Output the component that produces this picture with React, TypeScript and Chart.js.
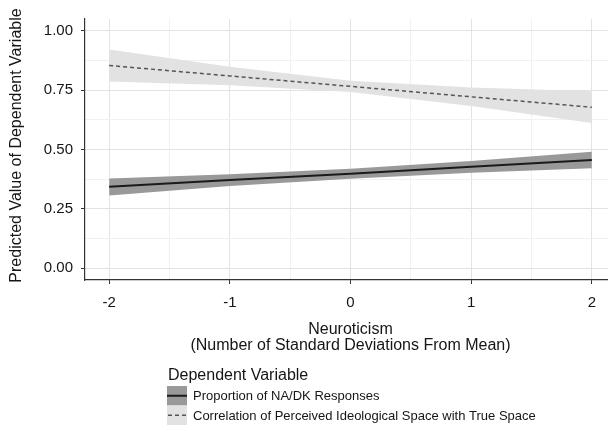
import React, { useEffect, useRef } from "react";
import { Chart, registerables } from "chart.js";

Chart.register(...registerables);

// ---- data ----
const xValues = [-2, -1, 0, 1, 2];
const propFit = [0.343, 0.371, 0.398, 0.427, 0.456];
const propLow = [0.306, 0.346, 0.377, 0.402, 0.421];
const propHigh = [0.378, 0.396, 0.419, 0.452, 0.491];
const corrFit = [0.854, 0.81, 0.766, 0.722, 0.678];
const corrLow = [0.787, 0.771, 0.742, 0.683, 0.612];
const corrHigh = [0.921, 0.849, 0.79, 0.761, 0.746];

const xTicks = [-2, -1.5, -1, -0.5, 0, 0.5, 1, 1.5, 2];
const yTicks = [0, 0.125, 0.25, 0.375, 0.5, 0.625, 0.75, 0.875, 1];

const seriesNames = [
  "Proportion of NA/DK Responses",
  "Correlation of Perceived Ideological Space with True Space",
];
const legendTitle = "Dependent Variable";
const xTitle = ["Neuroticism", "(Number of Standard Deviations From Mean)"];
const yTitle = "Predicted Value of Dependent Variable";

// ---- styles ----
const FONT = '"Liberation Sans", Arial, Helvetica, sans-serif';
const TEXT = "#151515";
const PROP_LINE = "#1a1a1a";
const PROP_BAND = "#999999";
const CORR_LINE = "#555555";
const CORR_BAND = "#e2e2e2";
const GRID_MAJOR = "#e3e3e3";
const GRID_MINOR = "#f1f1f1";
const AXIS = "#333333";

const pts = (ys: number[]) => xValues.map((x, i) => ({ x, y: ys[i] }));

const isMajorY = (v: number) => Math.abs(v * 4 - Math.round(v * 4)) < 1e-9;
const isMajorX = (v: number) => Math.abs(v - Math.round(v)) < 1e-9;

const legendPlugin = {
  id: "customLegend",
  afterDraw(chart: any) {
    const ctx = chart.ctx as CanvasRenderingContext2D;
    ctx.save();

    // y-axis title
    ctx.save();
    ctx.translate(16.5, 145.5);
    ctx.rotate(-Math.PI / 2);
    ctx.textAlign = "center";
    ctx.textBaseline = "middle";
    ctx.fillStyle = TEXT;
    ctx.font = `16px ${FONT}`;
    ctx.fillText(yTitle, 0, 0);
    ctx.restore();

    ctx.textAlign = "left";
    ctx.textBaseline = "middle";
    ctx.fillStyle = TEXT;
    ctx.font = `16px ${FONT}`;
    ctx.fillText(legendTitle, 168, 376);

    const kx = 167;
    const kw = 20;
    const k1 = 386;
    const k2 = 405.5;
    const kh = 19.5;
    ctx.fillStyle = PROP_BAND;
    ctx.fillRect(kx, k1, kw, kh);
    ctx.fillStyle = CORR_BAND;
    ctx.fillRect(kx, k2, kw, kh);

    ctx.strokeStyle = PROP_LINE;
    ctx.lineWidth = 2;
    ctx.setLineDash([]);
    ctx.beginPath();
    ctx.moveTo(kx, k1 + kh / 2);
    ctx.lineTo(kx + kw, k1 + kh / 2);
    ctx.stroke();

    ctx.strokeStyle = CORR_LINE;
    ctx.lineWidth = 1.5;
    ctx.setLineDash([4, 3]);
    ctx.beginPath();
    ctx.moveTo(kx + 1, k2 + kh / 2);
    ctx.lineTo(kx + kw, k2 + kh / 2);
    ctx.stroke();
    ctx.setLineDash([]);

    ctx.fillStyle = TEXT;
    ctx.font = `13px ${FONT}`;
    ctx.fillText(seriesNames[0], 193, k1 + kh / 2 + 1);
    ctx.fillText(seriesNames[1], 193, k2 + kh / 2 + 1);
    ctx.restore();
  },
};

export default function App() {
  const ref = useRef<HTMLCanvasElement | null>(null);

  useEffect(() => {
    document.body.style.margin = "0";
    document.documentElement.style.overflow = "hidden";
    document.body.style.overflow = "hidden";
    document.body.style.background = "#ffffff";
    if (!ref.current) return;

    const bandBase = {
      type: "line" as const,
      pointRadius: 0,
      borderWidth: 0,
      borderColor: "rgba(0,0,0,0)",
      tension: 0,
    };

    const chart = new Chart(ref.current, {
      type: "line",
      data: {
        datasets: [
          {
            label: seriesNames[0],
            data: pts(propFit),
            borderColor: PROP_LINE,
            borderWidth: 2,
            pointRadius: 0,
            fill: false,
            tension: 0,
          },
          {
            label: seriesNames[1],
            data: pts(corrFit),
            borderColor: CORR_LINE,
            borderWidth: 1.5,
            borderDash: [4, 3],
            pointRadius: 0,
            fill: false,
            tension: 0,
          },
          { ...bandBase, label: "propHigh", data: pts(propHigh), fill: "+1", backgroundColor: PROP_BAND },
          { ...bandBase, label: "propLow", data: pts(propLow), fill: false },
          { ...bandBase, label: "corrHigh", data: pts(corrHigh), fill: "+1", backgroundColor: CORR_BAND },
          { ...bandBase, label: "corrLow", data: pts(corrLow), fill: false },
        ],
      },
      options: {
        responsive: false,
        animation: false,
        devicePixelRatio: 1,
        layout: { padding: { top: 19, right: 0, bottom: 71, left: 0 } },
        plugins: {
          legend: { display: false },
          tooltip: { enabled: false },
        },
        scales: {
          x: {
            type: "linear",
            min: -2.2,
            max: 2.2,
            afterBuildTicks: (scale: any) => {
              scale.ticks = xTicks.map((v) => ({ value: v }));
            },
            afterFit: (scale: any) => {
              scale.height = 74;
            },
            ticks: {
              autoSkip: false,
              maxRotation: 0,
              minRotation: 0,
              padding: 10,
              color: TEXT,
              font: { family: FONT, size: 15 },
              callback: (v: any) => (isMajorX(Number(v)) ? String(Math.round(Number(v))) : ""),
            },
            grid: {
              color: (c: any) => (isMajorX(c.tick?.value ?? 0) ? GRID_MAJOR : GRID_MINOR),
              tickColor: (c: any) => (isMajorX(c.tick?.value ?? 0) ? AXIS : "rgba(0,0,0,0)"),
              tickLength: 4,
              lineWidth: 1,
            },
            border: { display: true, color: AXIS, width: 1.2 },
            title: {
              display: true,
              text: xTitle,
              color: TEXT,
              font: { family: FONT, size: 16, lineHeight: 1.0 },
              padding: { top: 0, bottom: 0 },
            },
          },
          y: {
            type: "linear",
            min: -0.05,
            max: 1.05,
            afterBuildTicks: (scale: any) => {
              scale.ticks = yTicks.map((v) => ({ value: v }));
            },
            afterFit: (scale: any) => {
              scale.width = 85;
            },
            ticks: {
              autoSkip: false,
              padding: 8,
              color: TEXT,
              font: { family: FONT, size: 15 },
              callback: (v: any) => (isMajorY(Number(v)) ? Number(v).toFixed(2) : ""),
            },
            grid: {
              color: (c: any) => (isMajorY(c.tick?.value ?? 0) ? GRID_MAJOR : GRID_MINOR),
              tickColor: (c: any) => (isMajorY(c.tick?.value ?? 0) ? AXIS : "rgba(0,0,0,0)"),
              tickLength: 4,
              lineWidth: 1,
            },
            border: { display: true, color: AXIS, width: 1.2 },
            title: { display: false },
          },
        },
      },
      plugins: [legendPlugin],
    } as any);

    return () => chart.destroy();
  }, []);

  return (
    <div style={{ width: 608, height: 425, overflow: "hidden", background: "#fff" }}>
      <canvas ref={ref} width={616} height={425} style={{ display: "block" }} />
    </div>
  );
}
